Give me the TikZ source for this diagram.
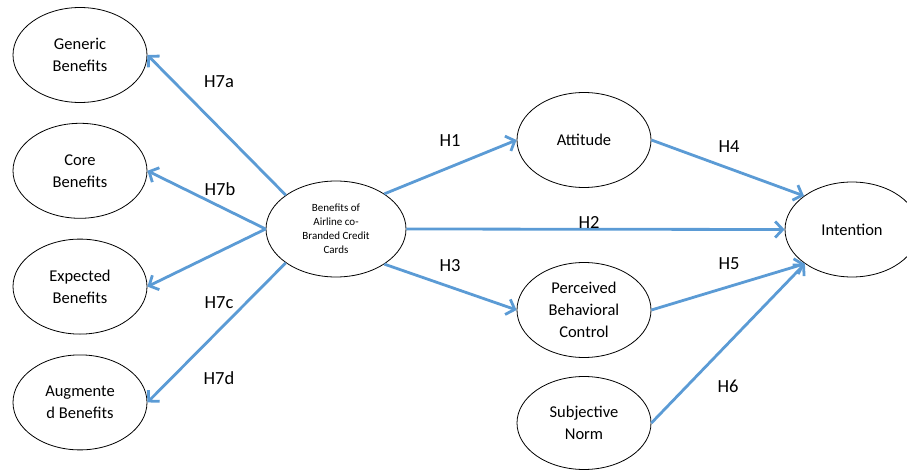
\documentclass[tikz,border=0pt]{standalone}
\usepackage{fontspec}
\setmainfont{Carlito}
\usetikzlibrary{positioning}
\usetikzlibrary{arrows.meta}
\usetikzlibrary{shapes.geometric}

\definecolor{pathblue}{HTML}{5B9BD5}

\begin{document}
\begin{tikzpicture}[x=1pt, y=-1pt, node distance=20pt,
    construct/.style={draw, ellipse, line width=0.8pt, minimum width=134pt, minimum height=95pt, inner sep=0pt, align=center, font=\fontsize{16.5}{22}\selectfont},
    path arrow/.style={-{Straight Barb[length=7.5pt, width=16pt]}, line width=2.8pt, pathblue},
    hyp/.style={font=\fontsize{18.5}{20}\selectfont, inner sep=0pt}]

      \useasboundingbox (0,0) rectangle (907,470);

      \node[construct, minimum width=140pt, minimum height=96pt, font=\fontsize{11}{14}\selectfont] (cobrand) at (336,229) {Benefits of\\ Airline co-\\ Branded Credit\\ Cards};

      \node[construct] (generic) at (80,55) {Generic\\ Benefits};
      \node[construct, below=of generic] (core) {Core\\ Benefits};
      \node[construct, below=of core] (expected) {Expected\\ Benefits};
      \node[construct, below=of expected] (augmented) {Augmente\\ d Benefits};

      \node[construct] (attitude) at (584,140) {Attitude};
      \node[construct] (pbc) at (584,310) {Perceived\\ Behavioral\\ Control};
      \node[construct, minimum height=93pt] (norm) at (584,423) {Subjective\\ Norm};
      \node[construct] (intention) at (852,229.5) {Intention};

      \draw[path arrow] (cobrand.146) -- (generic.east);
      \draw[path arrow] (cobrand.west) -- (core.east);
      \draw[path arrow] (cobrand.west) -- (expected.east);
      \draw[path arrow] (cobrand.-146) -- (augmented.east);

      \draw[path arrow] (cobrand.36) -- (attitude.west);
      \draw[path arrow] (cobrand.east) -- (intention.west);
      \draw[path arrow] (cobrand.-36) -- (pbc.west);

      \draw[path arrow] (attitude.east) -- (intention.145);
      \draw[path arrow] (pbc.east) -- (intention.216);
      \draw[path arrow] (norm.east) -- (intention.216);

      \node[hyp] (h7a) at (219,82) {H7a};
      \node[hyp] (h7b) at (220,189) {H7b};
      \node[hyp] (h7c) at (219,303) {H7c};
      \node[hyp] (h7d) at (219,378) {H7d};
      \node[hyp] (h1) at (450,141) {H1};
      \node[hyp] (h2) at (589,222) {H2};
      \node[hyp] (h3) at (450,266) {H3};
      \node[hyp] (h4) at (729,146.5) {H4};
      \node[hyp] (h5) at (729,263.5) {H5};
      \node[hyp] (h6) at (728,386.5) {H6};

\end{tikzpicture}
\end{document}
